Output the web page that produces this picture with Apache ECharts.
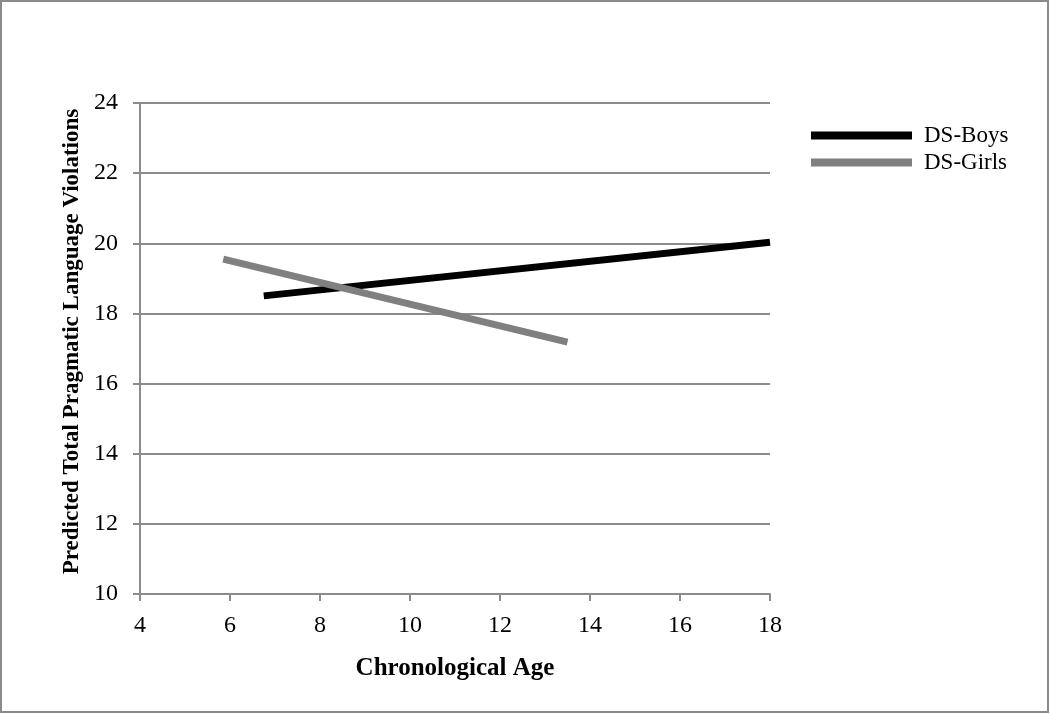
<!DOCTYPE html>
<html>
<head>
<meta charset="utf-8">
<script src="https://cdn.jsdelivr.net/npm/echarts@6/dist/echarts.min.js"></script>
<style>
  html, body { margin: 0; padding: 0; background: #fff; }
  #chart { width: 1050px; height: 714px; }
</style>
</head>
<body>
<div id="chart"></div>
<script>
const seriesNames = ['DS-Boys', 'DS-Girls'];
const boysAge = [6.75, 18];
const boysPred = [18.5, 20.03];
const girlsAge = [5.85, 13.5];
const girlsPred = [19.55, 17.18];
const xTicks = [4, 18, 2];
const yTicks = [10, 24, 2];

const font = 'Liberation Serif, Times New Roman, serif';
const axisGray = '#8c8c8c';

const chart = echarts.init(document.getElementById('chart'));

function pairs(xs, ys) {
  return xs.map((x, i) => [x, ys[i]]);
}

chart.setOption({
  animation: false,
  backgroundColor: '#fff',
  graphic: [{
    type: 'rect',
    shape: { x: 1, y: 1, width: 1047, height: 711 },
    style: { fill: null, stroke: '#8a8a8a', lineWidth: 2 }
  }],
  grid: { left: 140, right: 280, top: 103, bottom: 120 },
  legend: {
    orient: 'vertical',
    left: 806,
    top: 119,
    itemWidth: 101,
    itemHeight: 8,
    itemGap: 4,
    icon: 'rect',
    textStyle: { fontFamily: font, fontSize: 23, color: '#000', padding: [0, 0, 0, 7] },
    data: seriesNames
  },
  xAxis: {
    type: 'value',
    min: xTicks[0], max: xTicks[1], interval: xTicks[2],
    name: 'Chronological Age',
    nameLocation: 'middle',
    nameGap: 62,
    nameTextStyle: { fontFamily: font, fontSize: 25, fontWeight: 'bold', color: '#000' },
    axisLine: { show: true, lineStyle: { color: axisGray, width: 2 } },
    axisTick: { show: true, length: 7, lineStyle: { color: axisGray, width: 2 } },
    axisLabel: { fontFamily: font, fontSize: 24, color: '#000', margin: 20 },
    splitLine: { show: false }
  },
  yAxis: {
    type: 'value',
    min: yTicks[0], max: yTicks[1], interval: yTicks[2],
    name: 'Predicted Total Pragmatic Language Violations',
    nameLocation: 'middle',
    nameGap: 56,
    nameTextStyle: { fontFamily: font, fontSize: 23, fontWeight: 'bold', color: '#000', padding: [0, 0, 0, 14] },
    axisLine: { show: true, lineStyle: { color: axisGray, width: 2 } },
    axisTick: { show: true, length: 7, lineStyle: { color: axisGray, width: 2 } },
    axisLabel: { fontFamily: font, fontSize: 24, color: '#000', margin: 22 },
    splitLine: { show: true, lineStyle: { color: axisGray, width: 2 } }
  },
  series: [
    {
      name: seriesNames[0],
      type: 'line',
      data: pairs(boysAge, boysPred),
      showSymbol: false,
      color: '#000',
      lineStyle: { color: '#000', width: 7 }
    },
    {
      name: seriesNames[1],
      type: 'line',
      data: pairs(girlsAge, girlsPred),
      showSymbol: false,
      color: '#808080',
      lineStyle: { color: '#808080', width: 7 }
    }
  ]
});
</script>
</body>
</html>
